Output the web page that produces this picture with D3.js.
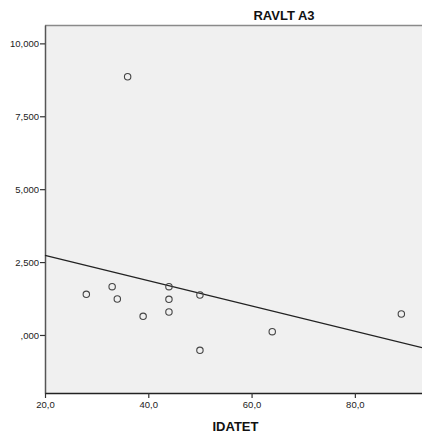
<!DOCTYPE html>
<html>
<head>
<meta charset="utf-8">
<script src="https://cdn.jsdelivr.net/npm/d3@7"></script>
<style>
  html, body { margin: 0; padding: 0; background: #fff; }
  svg { display: block; }
  text { font-family: Arial, "Liberation Sans", sans-serif; }
</style>
</head>
<body>
<svg id="chart" width="422" height="437"></svg>
<script>
// IDATET (x) vs RAVLT A3 (y)
const idatet = [36, 28, 33, 34, 39, 44, 44, 44, 50, 50, 64, 89];
const ravltA3 = [8.855, 1.395, 1.656, 1.234, 0.641, 1.656, 1.223, 0.788, 1.371, -0.526, 0.114, 0.72];
const xTicks = [20, 40, 60, 80];
const yTicks = [0, 2.5, 5, 7.5, 10];
const xTitle = "IDATET";
const yTitle = "RAVLT A3";

const svg = d3.select("#chart");
const W = 422, H = 437;
const m = { top: 25, right: 0, bottom: 44, left: 45 };

const x = d3.scaleLinear().domain([20, 93]).range([m.left, W - m.right]);
const y = d3.scaleLinear().domain([-1.99, 10.63]).range([H - m.bottom, m.top]);

const fmtComma = (v, dec) => v.toFixed(dec).replace(".", ",");
const yFmt = v => {
  const s = fmtComma(v, 3);
  return s.startsWith("0,") ? s.slice(1) : s;
};

// plot background
svg.append("rect")
  .attr("x", m.left).attr("y", m.top)
  .attr("width", W - m.left - m.right).attr("height", H - m.top - m.bottom)
  .attr("fill", "#f0f0f0");

// top frame line
svg.append("line")
  .attr("x1", m.left).attr("x2", W).attr("y1", m.top + 0.5).attr("y2", m.top + 0.5)
  .attr("stroke", "#8a8a8a").attr("stroke-width", 1.5);

// y axis
const yAxis = svg.append("g")
  .attr("transform", `translate(${m.left},0)`)
  .call(d3.axisLeft(y).tickValues(yTicks).tickSize(5).tickSizeOuter(0).tickPadding(1).tickFormat(yFmt));
yAxis.select(".domain").attr("stroke", "#555").attr("stroke-width", 1.5);
yAxis.selectAll(".tick line").attr("stroke", "#333").attr("stroke-width", 1.2);
yAxis.selectAll("text").attr("font-size", 9.5).attr("fill", "#222");

// x axis
const xAxis = svg.append("g")
  .attr("transform", `translate(0,${H - m.bottom})`)
  .call(d3.axisBottom(x).tickValues(xTicks).tickSize(5).tickSizeOuter(0).tickPadding(3).tickFormat(v => fmtComma(v, 1)));
xAxis.select(".domain").attr("stroke", "#222").attr("stroke-width", 1.5);
xAxis.selectAll(".tick line").attr("stroke", "#333").attr("stroke-width", 1.2);
xAxis.selectAll("text").attr("font-size", 9.5).attr("fill", "#222");

// least-squares fit line
const mx = d3.mean(idatet), my = d3.mean(ravltA3);
let sxy = 0, sxx = 0;
idatet.forEach((xv, i) => { sxy += (xv - mx) * (ravltA3[i] - my); sxx += (xv - mx) ** 2; });
const slope = sxy / sxx, icpt = my - slope * mx;
const [x0, x1] = x.domain();
svg.append("line")
  .attr("x1", x(x0)).attr("y1", y(icpt + slope * x0))
  .attr("x2", x(x1)).attr("y2", y(icpt + slope * x1))
  .attr("stroke", "#222").attr("stroke-width", 1.3);

// points
svg.append("g").selectAll("circle")
  .data(idatet.map((xv, i) => [xv, ravltA3[i]]))
  .join("circle")
  .attr("cx", d => x(d[0])).attr("cy", d => y(d[1]))
  .attr("r", 3.2)
  .attr("fill", "none").attr("stroke", "#444").attr("stroke-width", 1.1);

// titles
svg.append("text")
  .attr("x", 284).attr("y", 20)
  .attr("text-anchor", "middle").attr("font-size", 13).attr("font-weight", "bold").attr("fill", "#111")
  .text(yTitle);
svg.append("text")
  .attr("x", 235.5).attr("y", 431)
  .attr("text-anchor", "middle").attr("font-size", 13).attr("font-weight", "bold").attr("fill", "#111")
  .text(xTitle);
</script>
</body>
</html>
